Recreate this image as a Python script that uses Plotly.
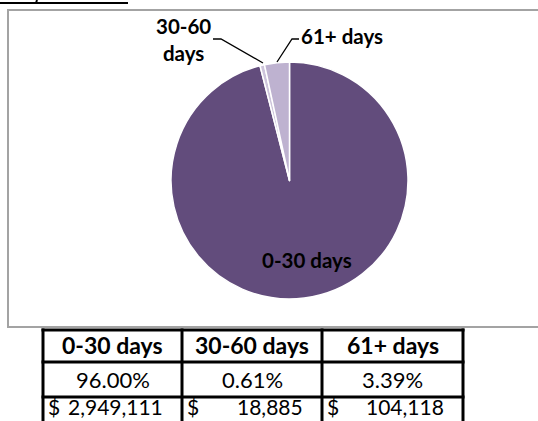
import plotly.graph_objects as go

# ---- data ----
categories = ["0-30 days", "30-60 days", "61+ days"]
amounts = [2949111, 18885, 104118]
percent_labels = ["96.00%", "0.61%", "3.39%"]
amount_labels = ["2,949,111", "18,885", "104,118"]
pie_label_texts = ["0-30 days", "30-60<br>days", "61+ days"]
slice_colors = ["#624C7C", "#CDC4DB", "#BEB2D0"]

W, H = 538, 421
FONT = "Lato"


def px(x):
    return x / W


def py(y):
    return 1 - y / H


fig = go.Figure()

# pie: center ~ (289,180), radius ~118.5 px
cx, cy, r = 289.5, 180.5, 118.5
fig.add_trace(go.Pie(
    labels=categories,
    values=amounts,
    sort=False,
    direction="clockwise",
    rotation=0,
    textinfo="none",
    marker=dict(colors=slice_colors, line=dict(color="white", width=1.5)),
    domain=dict(x=[px(cx - r), px(cx + r)], y=[py(cy + r), py(cy - r)]),
    hoverinfo="label+percent+value",
))

shapes = []
annotations = []

# chart frame
shapes.append(dict(type="rect", xref="paper", yref="paper",
                   x0=px(8), x1=px(560), y0=py(327), y1=py(10),
                   line=dict(color="#A3A3A3", width=2), layer="below"))
# cut-off title underline
shapes.append(dict(type="line", xref="paper", yref="paper",
                   x0=px(0), x1=px(128), y0=py(3), y1=py(3),
                   line=dict(color="black", width=2)))
shapes.append(dict(type="line", xref="paper", yref="paper",
                   x0=px(37), x1=px(36), y0=py(0), y1=py(3),
                   line=dict(color="black", width=2)))

# pie leader lines
shapes.append(dict(type="path", xref="paper", yref="paper",
                   path=f"M {px(213)},{py(39)} L {px(221)},{py(39)} L {px(263)},{py(63)}",
                   line=dict(color="black", width=1.3)))
shapes.append(dict(type="path", xref="paper", yref="paper",
                   path=f"M {px(299)},{py(39)} L {px(292)},{py(39)} L {px(277)},{py(62)}",
                   line=dict(color="black", width=1.3)))

# pie labels
label_pos = [(307, 260), (183, 40), (342, 36)]
for t, (x, y) in zip(pie_label_texts, label_pos):
    annotations.append(dict(text=f"<b>{t}</b>", x=px(x), y=py(y), xref="paper", yref="paper",
                            showarrow=False, xanchor="center", yanchor="middle",
                            font=dict(family=FONT, size=20.5, color="black")))

# table grid
col_x = [43, 182, 322, 463]
row_y = [330, 362, 397, 440]
for x in col_x:
    shapes.append(dict(type="line", xref="paper", yref="paper",
                       x0=px(x), x1=px(x), y0=py(row_y[0] - 1.5), y1=py(row_y[-1]),
                       line=dict(color="black", width=3)))
for y in row_y[:-1]:
    shapes.append(dict(type="line", xref="paper", yref="paper",
                       x0=px(col_x[0] - 1.5), x1=px(col_x[-1] + 1.5), y0=py(y), y1=py(y),
                       line=dict(color="black", width=3)))

for i in range(3):
    xl, xr = col_x[i], col_x[i + 1]
    xc = (xl + xr) / 2
    annotations.append(dict(text=f"<b>{categories[i]}</b>", x=px(xc), y=py(345),
                            xref="paper", yref="paper", showarrow=False,
                            xanchor="center", yanchor="middle",
                            font=dict(family=FONT, size=23, color="black")))
    annotations.append(dict(text=percent_labels[i], x=px(xc), y=py(379),
                            xref="paper", yref="paper", showarrow=False,
                            xanchor="center", yanchor="middle",
                            font=dict(family=FONT, size=22, color="black")))
    annotations.append(dict(text="$", x=px(xl + 3), y=py(421),
                            xref="paper", yref="paper", showarrow=False,
                            xanchor="left", yanchor="bottom",
                            font=dict(family=FONT, size=21, color="black")))
    annotations.append(dict(text=amount_labels[i], x=px(xr - 17), y=py(421),
                            xref="paper", yref="paper", showarrow=False,
                            xanchor="right", yanchor="bottom",
                            font=dict(family=FONT, size=21, color="black")))

fig.update_layout(
    width=W, height=H,
    margin=dict(l=0, r=0, t=0, b=0),
    paper_bgcolor="white",
    plot_bgcolor="white",
    showlegend=False,
    shapes=shapes,
    annotations=annotations,
)

fig.write_html(
    "out.html",
    config={"displayModeBar": False},
    post_script="document.body.style.margin='0';document.body.style.padding='0';"
                "document.body.style.overflow='hidden';",
)
